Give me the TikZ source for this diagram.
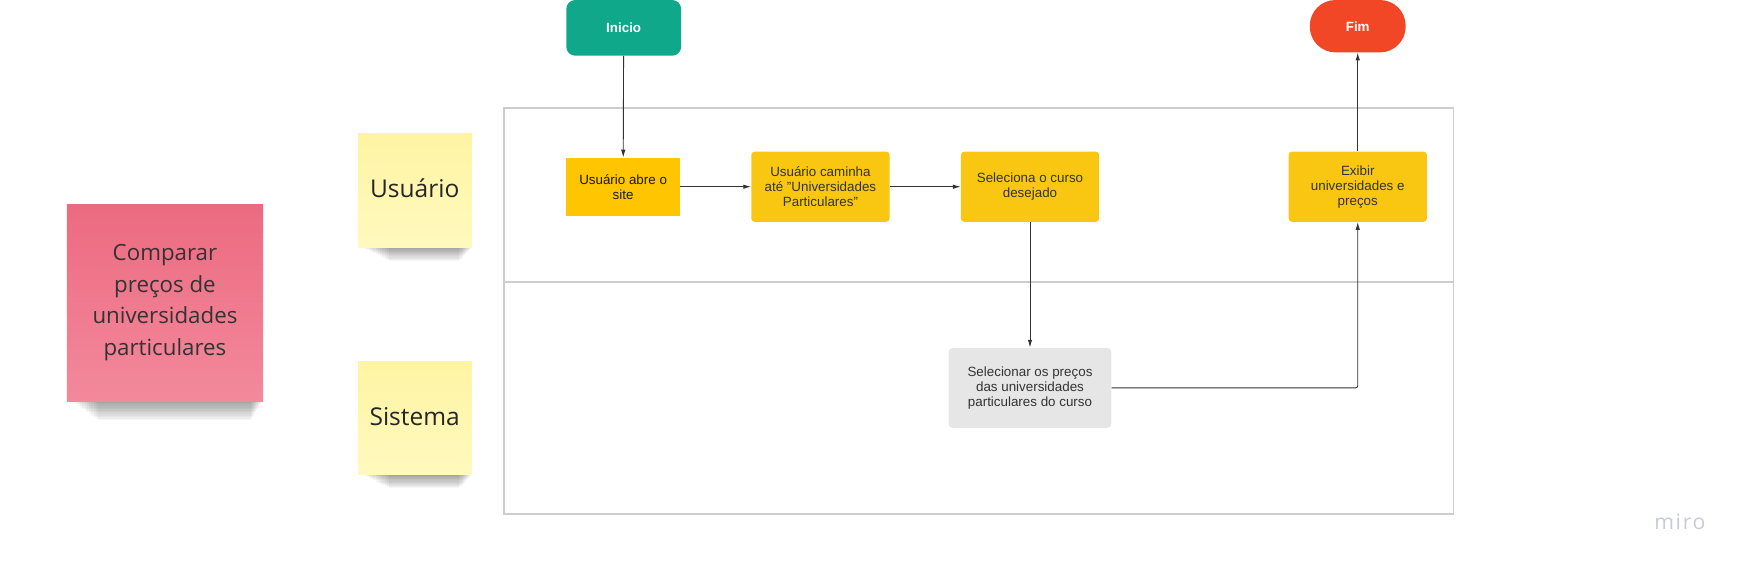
\documentclass[tikz,border=0pt]{standalone}
\usepackage{fontspec}
\setmainfont{Liberation Sans}
\newfontfamily\stickyfont{Open Sans}
\usetikzlibrary{arrows.meta,positioning}

\definecolor{inicioteal}{HTML}{0FA88A}
\definecolor{fimred}{HTML}{F24726}
\definecolor{abreyellow}{HTML}{FFC600}
\definecolor{taskyellow}{HTML}{F9C711}
\definecolor{taskgray}{HTML}{E6E6E6}
\definecolor{tasktext}{HTML}{333333}
\definecolor{poolgray}{HTML}{CDCDCD}
\definecolor{pinktop}{HTML}{EC6A80}
\definecolor{pinkbottom}{HTML}{F3899C}
\definecolor{noteyellowtop}{HTML}{FFF4A3}
\definecolor{noteyellowbottom}{HTML}{FFF9BE}
\definecolor{mirogray}{HTML}{C8CBD6}

\tikzset{
	flowarrow/.style={draw=black!80, line width=0.8pt, -{Latex[length=7pt,width=4pt]}},
	task/.style={fill=taskyellow, rounded corners=3pt, minimum width=124pt, minimum height=63pt,
		align=center, text=tasktext, inner sep=2pt, font=\fontsize{12}{13.5}\selectfont},
	terminal/.style={text=white, inner sep=0pt, font=\bfseries\fontsize{12}{14}\selectfont},
	lanenote/.style={shade, top color=noteyellowtop, bottom color=noteyellowbottom,
		minimum width=102pt, minimum height=102pt, inner sep=0pt, text=black!85,
		font=\stickyfont\fontsize{22}{26}\selectfont}
}

% sticky shadow: x1, x2, bottom, depth
\newcommand{\stickyshadow}[4]{%
	\foreach \k in {1,...,12}
		\fill[black, opacity=0.035] (#1+4+\k*2, #3-3) rectangle (#2-\k*0.9, #3+\k*#4/12);
}

\begin{document}
\begin{tikzpicture}[x=1pt,y=-1pt]
				
					\useasboundingbox (0,0) rectangle (1569,512);
					
					% pool and lanes
					\draw[poolgray, line width=1.2pt] (452,97) rectangle (1304,461);
					\draw[poolgray, line width=1.2pt] (452,253) -- (1304,253);
					
					% sticky notes
					\stickyshadow{60}{236}{360}{17}
					\stickyshadow{321}{423}{222}{12}
					\stickyshadow{321}{423}{426}{12}
					
					\node[shade, top color=pinktop, bottom color=pinkbottom, minimum width=176pt, minimum height=177pt,
						inner sep=0pt, align=center, text=black!80, font=\stickyfont\fontsize{20}{28.5}\selectfont]
						(tema) at (148,271.5) {Comparar\\preços de\\universidades\\particulares};
					\node[lanenote, text depth=0pt] (usuario) at (372,171) {\raisebox{4pt}{Usuário}};
					\node[lanenote, text depth=0pt] (sistema) at (372,375) {\raisebox{3pt}{Sistema}};
					
					% start and end
					\node[terminal, fill=inicioteal, rounded corners=8pt, minimum width=103pt, minimum height=50pt]
						(inicio) at (559.5,25) {Inicio};
					\node[terminal, fill=fimred, rounded corners=23pt, minimum width=86pt, minimum height=47pt]
						(fim) at (1218,23.5) {Fim};
					
					% tasks
					\node[task, fill=abreyellow, rounded corners=0pt, minimum width=102pt, minimum height=52pt, text=black!90]
						(abre) at (559,167.5) {Usuário abre o\\site};
					\node[task] (caminha) at (736,167.5) {Usuário caminha\\até "Universidades\\Particulares"};
					\node[task] (curso) at (924,167.5) {Seleciona o curso\\desejado};
					\node[task] (exibir) at (1218,167.5) {Exibir\\universidades e\\preços};
					\node[task, fill=taskgray, rounded corners=4pt, minimum width=146pt, minimum height=72pt]
						(precos) at (924,348) {Selecionar os preços\\das universidades\\particulares do curso};
					
					% connectors
					\draw[flowarrow] (inicio) -- (abre);
					\draw[flowarrow] (abre) -- (caminha);
					\draw[flowarrow] (caminha) -- (curso);
					\draw[flowarrow] (curso) -- (precos);
					\draw[flowarrow, rounded corners=2pt] (precos.east) -| (exibir.south);
					\draw[flowarrow] (exibir) -- (fim);
					
					\node[text=mirogray, font=\stickyfont\fontsize{19}{20}\selectfont\addfontfeature{LetterSpace=8}] (miro) at (1507,468) {miro};

				\end{tikzpicture}
\end{document}
